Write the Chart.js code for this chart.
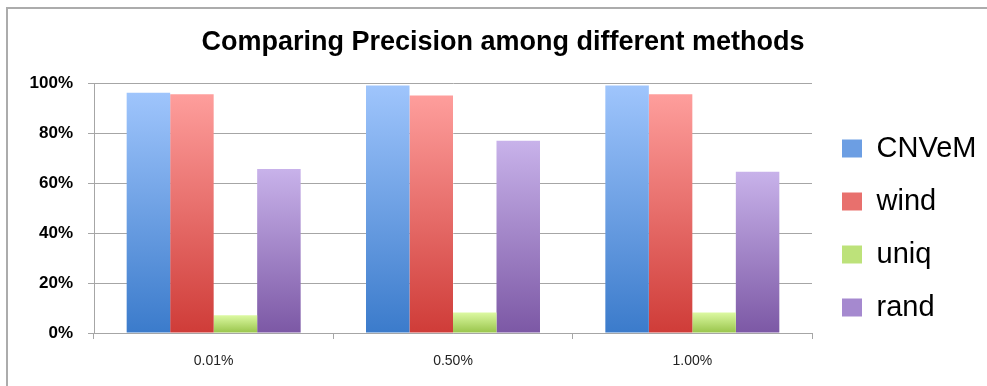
<!DOCTYPE html>
<html>
<head>
<meta charset="utf-8">
<title>Comparing Precision among different methods</title>
<script src="https://cdn.jsdelivr.net/npm/chart.js@4.4.1/dist/chart.umd.min.js"></script>
<style>
  html, body { margin: 0; padding: 0; background: #ffffff; }
  #wrap { position: relative; width: 987px; height: 386px; }
</style>
</head>
<body>
<div id="wrap"><canvas id="chart" width="987" height="386"></canvas></div>
<script>
// Precision (%) of each method at three mutation rates
const categories = ['0.01%', '0.50%', '1.00%'];
const seriesNames = ['CNVeM', 'wind', 'uniq', 'rand'];
const cnvemValues = [96.3, 99.2, 99.2];
const windValues  = [95.7, 95.2, 95.7];
const uniqValues  = [7.1, 8.2, 8.2];
const randValues  = [65.7, 77.0, 64.6];
const yTicks = [0, 20, 40, 60, 80, 100];

const FONT = "'Liberation Sans', Arial, sans-serif";
const GRID = '#a6a6a6';

// top / bottom colours of each bar gradient, plus a flat legend swatch colour
const palette = [
  { top: '#9fc5fc', bottom: '#3b7bcb', swatch: '#6c9ee3' },
  { top: '#fe9e9c', bottom: '#cf3c38', swatch: '#e8706d' },
  { top: '#dcf9a2', bottom: '#98c44a', swatch: '#bde27a' },
  { top: '#c8b2ea', bottom: '#7c58a5', swatch: '#a589cf' }
];

// vertical gradient spanning each bar from its value down to zero
function barFill(colors) {
  return (ctx) => {
    const chart = ctx.chart;
    const y = chart.scales && chart.scales.y;
    if (!chart.chartArea || !y || ctx.type !== 'data') return colors.swatch;
    const yTop = y.getPixelForValue(ctx.raw);
    const yBase = y.getPixelForValue(0);
    if (!isFinite(yTop) || !isFinite(yBase) || yTop === yBase) return colors.swatch;
    const g = chart.ctx.createLinearGradient(0, yTop, 0, yBase);
    g.addColorStop(0, colors.top);
    g.addColorStop(1, colors.bottom);
    return g;
  };
}

const seriesValues = [cnvemValues, windValues, uniqValues, randValues];
const datasets = seriesNames.map((name, i) => ({
  label: name,
  data: seriesValues[i],
  backgroundColor: barFill(palette[i]),
  borderWidth: 0,
  categoryPercentage: 0.727,
  barPercentage: 1.0
}));

// thin grey frame along the top and left edges of the figure
const framePlugin = {
  id: 'frame',
  beforeDraw(chart) {
    const c = chart.ctx;
    c.save();
    c.fillStyle = '#ffffff';
    c.fillRect(0, 0, chart.width, chart.height);
    c.strokeStyle = '#acacac';
    c.lineWidth = 2;
    c.beginPath();
    c.moveTo(7, chart.height);
    c.lineTo(7, 8);
    c.lineTo(chart.width, 8);
    c.stroke();
    c.restore();
  }
};

// fixed legend column on the right, items nudged into place
const legendPlacement = {
  id: 'legendPlacement',
  beforeInit(chart) {
    const lg = chart.legend;
    if (!lg) return;
    const fit = lg.fit.bind(lg);
    lg.fit = function () {
      fit();
      if (!this.isHorizontal()) this.width = 175;
    };
  },
  afterLayout(chart) {
    const lg = chart.legend;
    if (!lg) return;
    lg.left += 6; lg.right += 6;
    lg.top += 35; lg.bottom += 35;
  }
};

new Chart(document.getElementById('chart'), {
  type: 'bar',
  data: { labels: categories, datasets },
  plugins: [framePlugin, legendPlacement],
  options: {
    responsive: false,
    animation: false,
    layout: { padding: { left: 19, right: 0, top: 0, bottom: 0 } },
    plugins: {
      title: {
        display: true,
        text: 'Comparing Precision among different methods',
        color: '#000000',
        font: { family: FONT, size: 27, weight: 'bold' },
        padding: { top: 26, bottom: 25 }
      },
      legend: {
        display: true,
        position: 'right',
        align: 'center',
        labels: {
          boxWidth: 20,
          boxHeight: 18,
          padding: 24,
          color: '#000000',
          font: { family: FONT, size: 29 },
          generateLabels(chart) {
            const items = Chart.defaults.plugins.legend.labels.generateLabels(chart);
            items.forEach((it, i) => {
              it.fillStyle = palette[i].swatch;
              it.strokeStyle = palette[i].swatch;
              it.lineWidth = 0;
            });
            return items;
          }
        }
      },
      tooltip: { enabled: false }
    },
    scales: {
      x: {
        grid: {
          display: true,
          offset: true,
          drawOnChartArea: false,
          drawTicks: true,
          tickLength: 6,
          color: GRID,
          lineWidth: 1
        },
        border: { display: true, color: GRID, width: 1 },
        ticks: {
          color: '#222222',
          padding: 14,
          font: { family: FONT, size: 14 }
        },
        afterFit(scale) { scale.height = 53; }
      },
      y: {
        min: 0,
        max: 100,
        afterBuildTicks(scale) { scale.ticks = yTicks.map(v => ({ value: v })); },
        grid: {
          color: GRID,
          lineWidth: 1,
          tickLength: 6,
          drawTicks: true
        },
        border: { display: true, color: GRID, width: 1 },
        ticks: {
          color: '#000000',
          padding: 15,
          font: { family: FONT, size: 17, weight: 'bold' },
          callback: (v) => v + '%'
        },
        afterFit(scale) { scale.width = 75; }
      }
    }
  }
});
</script>
</body>
</html>
